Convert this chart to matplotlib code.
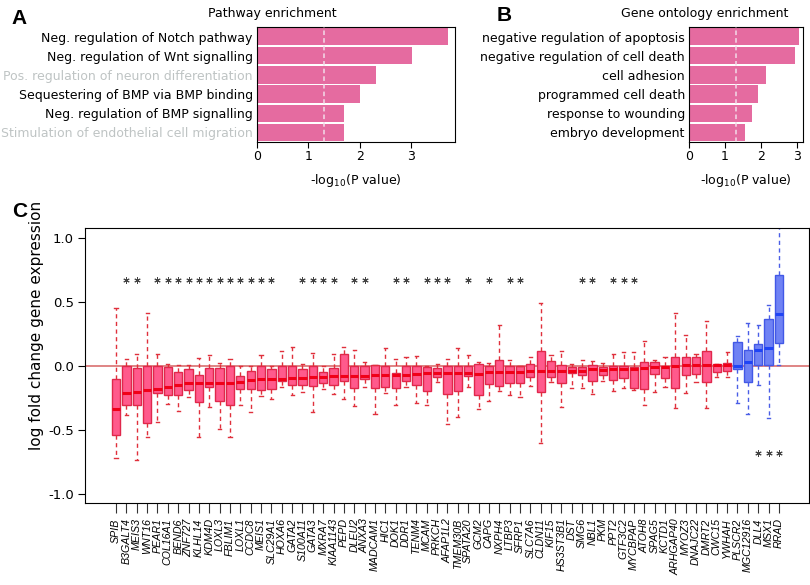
import matplotlib

matplotlib.use("Agg")
import matplotlib.pyplot as plt
import numpy as np

# panel A: pathway enrichment, -log10(p)
PATHWAYS = [
    "Neg. regulation of Notch pathway",
    "Neg. regulation of Wnt signalling",
    "Pos. regulation of neuron differentiation",
    "Sequestering of BMP via BMP binding",
    "Neg. regulation of BMP signalling",
    "Stimulation of endothelial cell migration",
]
PATHWAY_SCORES = [3.72, 3.01, 2.31, 2.01, 1.70, 1.70]
PATHWAY_FADED = [False, False, True, False, False, True]

# panel B: gene ontology enrichment, -log10(p)
GO_TERMS = [
    "negative regulation of apoptosis",
    "negative regulation of cell death",
    "cell adhesion",
    "programmed cell death",
    "response to wounding",
    "embryo development",
]
GO_SCORES = [3.05, 2.93, 2.12, 1.92, 1.74, 1.54]

P_CUTOFF = 1.301  # -log10(0.05)

# panel C: log fold change per gene, box stats
GENES = [
    "SPIB", "B3GALT4", "MEIS3", "WNT16", "PEAR1", "COL16A1", "BEND6", "ZNF727",
    "KLHL14", "KDM4D", "LOXL3", "FBLIM1", "LOXL1", "CCDC8", "MEIS1", "SLC29A1",
    "HOXA6", "GATA2", "S100A11", "GATA3", "MXRA7", "KIAA1143", "PEPD", "DLEU2",
    "ANXA3", "MADCAM1", "HIC1", "DOK1", "DDR1", "TENM4", "MCAM", "PRKCH",
    "AFAP1L2", "TMEM30B", "SPATA20", "GCM2", "CAPG", "NXPH4", "LTBP3", "SFRP1",
    "SLC7A6", "CLDN11", "KIF15", "HS3ST3B1", "DST", "SMG6", "NBL1", "PKM",
    "PPT2", "GTF3C2", "MYCBPAP", "ATOH8", "SPAG5", "KCTD1", "ARHGAP40", "MYOZ3",
    "DNAJC22", "DMRT2", "CWC15", "YWHAH", "PLSCR2", "MGC12916", "DLL4", "MSX1",
    "RRAD",
]
WHIS_LO = [
    -0.721, -0.383, -0.734, -0.557, -0.435, -0.300, -0.352, -0.242,
    -0.552, -0.318, -0.495, -0.557, -0.305, -0.362, -0.232, -0.255,
    -0.164, -0.227, -0.203, -0.362, -0.182, -0.216, -0.260, -0.310,
    -0.161, -0.372, -0.214, -0.302, -0.161, -0.286, -0.302, -0.122,
    -0.453, -0.401, -0.164, -0.333, -0.271, -0.193, -0.229, -0.242,
    -0.156, -0.604, -0.125, -0.318, -0.170, -0.169, -0.216, -0.120,
    -0.198, -0.169, -0.188, -0.307, -0.200, -0.167, -0.331, -0.208,
    -0.128, -0.331, -0.083, -0.083, -0.290, -0.372, -0.151, -0.410,
    0.005,
]
Q1 = [
    -0.542, -0.307, -0.307, -0.448, -0.208, -0.229, -0.224, -0.188,
    -0.284, -0.167, -0.276, -0.305, -0.182, -0.182, -0.188, -0.177,
    -0.115, -0.151, -0.151, -0.156, -0.130, -0.148, -0.115, -0.174,
    -0.099, -0.174, -0.164, -0.172, -0.120, -0.148, -0.193, -0.083,
    -0.221, -0.198, -0.076, -0.229, -0.138, -0.159, -0.130, -0.135,
    -0.083, -0.203, -0.083, -0.133, -0.055, -0.070, -0.120, -0.073,
    -0.107, -0.091, -0.174, -0.182, -0.063, -0.096, -0.169, -0.070,
    -0.065, -0.128, -0.049, -0.036, -0.021, -0.128, 0.005, 0.005,
    0.182,
]
MEDIAN = [
    -0.336, -0.208, -0.203, -0.188, -0.177, -0.164, -0.146, -0.135,
    -0.130, -0.130, -0.130, -0.130, -0.125, -0.109, -0.104, -0.102,
    -0.104, -0.096, -0.096, -0.083, -0.083, -0.081, -0.080, -0.078,
    -0.078, -0.073, -0.073, -0.068, -0.068, -0.063, -0.057, -0.057,
    -0.057, -0.055, -0.052, -0.060, -0.047, -0.047, -0.047, -0.047,
    -0.036, -0.042, -0.042, -0.042, -0.036, -0.036, -0.026, -0.031,
    -0.026, -0.021, -0.021, -0.013, -0.005, -0.008, 0.003, 0.005,
    0.005, 0.005, 0.005, 0.010, 0.000, 0.031, 0.128, 0.143,
    0.404,
]
Q3 = [
    -0.104, 0.000, -0.016, 0.000, 0.000, -0.005, -0.049, -0.021,
    -0.073, -0.018, -0.013, 0.000, -0.081, -0.042, -0.003, -0.021,
    0.000, 0.000, -0.023, 0.000, -0.047, -0.016, 0.091, 0.000,
    0.000, 0.005, 0.000, -0.052, 0.000, 0.000, -0.005, -0.018,
    0.000, 0.000, 0.000, 0.018, -0.003, 0.044, 0.000, 0.000,
    0.018, 0.115, 0.036, 0.010, -0.005, -0.005, 0.005, -0.005,
    -0.003, -0.003, -0.010, 0.034, 0.034, 0.003, 0.068, 0.070,
    0.068, 0.120, 0.013, 0.026, 0.188, 0.122, 0.174, 0.367,
    0.708,
]
WHIS_HI = [
    0.456, 0.057, 0.096, 0.411, 0.096, 0.016, 0.008, 0.010,
    0.065, 0.089, 0.026, 0.055, 0.000, -0.003, 0.083, 0.000,
    0.120, 0.146, 0.018, 0.100, 0.000, 0.091, 0.148, 0.122,
    0.034, 0.005, 0.143, 0.057, 0.073, 0.076, 0.000, 0.013,
    0.052, 0.138, 0.083, 0.034, 0.021, 0.320, 0.044, 0.000,
    0.073, 0.495, 0.083, 0.115, 0.018, 0.047, 0.039, 0.021,
    0.091, 0.112, 0.112, 0.193, 0.044, 0.068, 0.411, 0.245,
    0.091, 0.354, 0.013, 0.107, 0.232, 0.336, 0.318, 0.474,
    1.150,
]
UP_GENES = ["PLSCR2", "MGC12916", "DLL4", "MSX1", "RRAD"]
SIG_DOWN = [
    "B3GALT4", "MEIS3", "PEAR1", "COL16A1", "BEND6", "ZNF727", "KLHL14", "KDM4D",
    "LOXL3", "FBLIM1", "LOXL1", "CCDC8", "MEIS1", "SLC29A1", "S100A11", "GATA3",
    "MXRA7", "KIAA1143", "DLEU2", "ANXA3", "DOK1", "DDR1", "MCAM", "PRKCH",
    "AFAP1L2", "SPATA20", "CAPG", "LTBP3", "SFRP1", "SMG6", "NBL1", "PPT2",
    "GTF3C2", "MYCBPAP",
]
SIG_UP = ["DLL4", "MSX1", "RRAD"]

BAR_COLOR = "#e56ba0"
FADED_TEXT = "#bfc4c4"
RED = dict(face="#ff5a8c", edge="#e0284c", median="#f00018", whisker="#e0303c")
BLUE = dict(face="#6f82f4", edge="#4258e6", median="#1f44f5", whisker="#4a5ee6")

plt.rcParams["axes.unicode_minus"] = False
plt.rcParams["font.size"] = 9


def enrichment_panel(ax, labels, scores, faded, title, title_x):
    y = np.arange(len(labels))
    ax.barh(y, scores, height=0.9, color=BAR_COLOR, zorder=2)
    ax.axvline(P_CUTOFF, color="#f3dbe8", lw=1.1, ls=(0, (3, 2)), zorder=3)
    ax.set_ylim(len(labels) - 0.5, -0.5)
    ax.set_xlim(0, max(scores) * 1.035)
    ax.set_yticks(y)
    ax.set_yticklabels(labels, fontsize=9)
    for lab, f in zip(ax.get_yticklabels(), faded):
        if f:
            lab.set_color(FADED_TEXT)
    ax.tick_params(axis="y", length=0, pad=3)
    ax.tick_params(axis="x", length=4, pad=2, labelsize=9)
    ax.set_xticks([0, 1, 2, 3])
    ax.set_xlabel("-log$_{10}$(P value)", fontsize=9, labelpad=6)
    ax.text(title_x, 1.06, title, transform=ax.transAxes, ha="center",
            va="bottom", fontsize=9)


def box_stats(idx):
    return [
        dict(whislo=WHIS_LO[i], q1=Q1[i], med=MEDIAN[i], q3=Q3[i],
             whishi=WHIS_HI[i], label=GENES[i])
        for i in idx
    ]


def draw_boxes(ax, idx, col):
    pos = np.array(idx, dtype=float)
    ax.bxp(
        box_stats(idx), positions=pos, widths=0.8, patch_artist=True,
        showfliers=False, manage_ticks=False, capwidths=0.3,
        boxprops=dict(facecolor=col["face"], edgecolor=col["edge"], lw=1.0),
        medianprops=dict(color=col["median"], lw=2.2),
        whiskerprops=dict(color=col["whisker"], lw=1.0, ls=(0, (3, 2.5))),
        capprops=dict(color=col["whisker"], lw=1.0),
        zorder=2,
    )


def main():
    fig = plt.figure(figsize=(8.1, 5.85), dpi=100)

    ax_a = fig.add_axes([0.3173, 0.7573, 0.2444, 0.1966])
    enrichment_panel(ax_a, PATHWAYS, PATHWAY_SCORES, PATHWAY_FADED,
                     "Pathway enrichment", 0.076)
    ax_b = fig.add_axes([0.8506, 0.7573, 0.1407, 0.1966])
    enrichment_panel(ax_b, GO_TERMS, GO_SCORES, [False] * len(GO_TERMS),
                     "Gene ontology enrichment", 0.14)

    ax_c = fig.add_axes([0.1049, 0.1402, 0.8938, 0.4701])
    n = len(GENES)
    up = [i for i, g in enumerate(GENES) if g in UP_GENES]
    down = [i for i in range(n) if i not in up]
    ax_c.axhline(0, color="#d97070", lw=1.2, zorder=1.5)
    draw_boxes(ax_c, down, RED)
    draw_boxes(ax_c, up, BLUE)

    # significance asterisks
    star = dict(marker=(6, 2, 0), ls="none", ms=4.5, mew=0.7, color="#444444")
    sd = [GENES.index(g) for g in SIG_DOWN]
    su = [GENES.index(g) for g in SIG_UP]
    ax_c.plot(sd, [0.675] * len(sd), **star)
    ax_c.plot(su, [-0.677] * len(su), **star)

    ax_c.set_xlim(-3, n + 1.9)
    ax_c.set_ylim(-1.07, 1.078)
    ax_c.set_yticks([-1.0, -0.5, 0.0, 0.5, 1.0])
    ax_c.set_yticklabels(["-1.0", "-0.5", "0.0", "0.5", "1.0"], fontsize=9.5)
    ax_c.set_xticks(np.arange(n))
    ax_c.set_xticklabels(GENES, rotation=90, fontsize=7.7, style="italic",
                         family="Liberation Sans")
    ax_c.tick_params(axis="x", length=7, pad=4, color="#333333")
    ax_c.tick_params(axis="y", length=5, pad=3)
    ax_c.set_ylabel("log fold change gene expression", fontsize=11)
    ax_c.yaxis.set_label_coords(-0.057, 0.645)

    for letter, x, y in [("A", 0.014, 0.985), ("B", 0.613, 0.99), ("C", 0.015, 0.655)]:
        fig.text(x, y, letter, fontsize=15, fontweight="bold",
                 family="Liberation Sans", va="top", ha="left")

    fig.savefig("out.png", dpi=100)
    plt.close(fig)


if __name__ == "__main__":
    main()
